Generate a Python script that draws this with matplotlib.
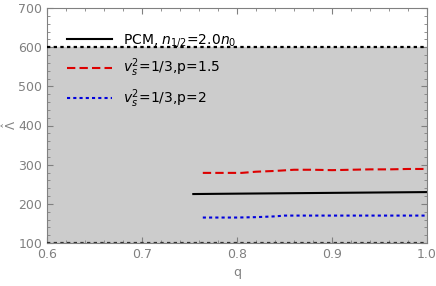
import numpy as np
import matplotlib.pyplot as plt

# data
q_pcm = [0.754, 0.80, 0.85, 0.90, 0.95, 1.0]
lam_pcm = [225, 226, 227, 228, 229, 230]

q_p15 = [0.764, 0.78, 0.805, 0.82, 0.84, 0.86, 0.88, 0.90, 0.92, 0.94, 0.96, 0.98, 1.0]
lam_p15 = [279, 279, 279, 282, 284, 287, 287, 286, 287, 288, 288, 289, 289]

q_p2 = [0.764, 0.78, 0.80, 0.82, 0.84, 0.85, 0.88, 0.90, 0.94, 0.97, 1.0]
lam_p2 = [165, 165, 165, 166, 168, 170, 170, 170, 170, 170, 170]

lam_lo, lam_hi = 100, 600

fig = plt.figure(figsize=(4.36, 2.86), dpi=100)
ax = fig.add_axes([47 / 436, 1 - 243 / 286, 380 / 436, 235 / 286])

gray = '#808080'
ax.axhspan(lam_lo, lam_hi, color='#cccccc', zorder=0)
ax.axhline(lam_hi, color='black', ls=(0, (1.5, 1.5)), lw=1.6, zorder=3)
ax.axhline(lam_lo, color='#333333', ls=(0, (1.5, 1.5)), lw=1.6, zorder=3)

ax.plot(q_pcm, lam_pcm, color='black', lw=1.5, label=r'PCM, $n_{1/2}$=2.0$n_0$')
ax.plot(q_p15, lam_p15, color='#dd0000', lw=1.5, ls=(0, (4, 2)), label=r'$v_s^2$=1/3,p=1.5')
ax.plot(q_p2, lam_p2, color='#0000dd', lw=1.5, ls=(0, (1.5, 1.5)), label=r'$v_s^2$=1/3,p=2')

ax.set_xlim(0.6, 1.0)
ax.set_ylim(100, 700)
ax.set_xticks([0.6, 0.7, 0.8, 0.9, 1.0])
ax.set_yticks([100, 200, 300, 400, 500, 600, 700])
ax.set_xticks(np.arange(0.6, 1.0001, 0.02), minor=True)
ax.set_yticks(np.arange(100, 701, 20), minor=True)
ax.tick_params(which='both', direction='in', top=True, right=True, colors=gray,
               labelcolor=gray, labelsize=9)
ax.tick_params(which='major', length=4)
ax.tick_params(which='minor', length=2)
for s in ax.spines.values():
    s.set_color(gray)
    s.set_linewidth(0.8)

ax.set_xlabel('q', color=gray, fontsize=9)
fig.text(10 / 436, 1 - 125 / 286, r'$\hat{\Lambda}$', color=gray, fontsize=8.5,
         rotation=90, ha='center', va='center')

leg = ax.legend(loc='upper left', bbox_to_anchor=(0.02, 0.95), frameon=False,
                fontsize=10, handlelength=3.2, labelspacing=0.55)

fig.savefig('out.png', dpi=100)
